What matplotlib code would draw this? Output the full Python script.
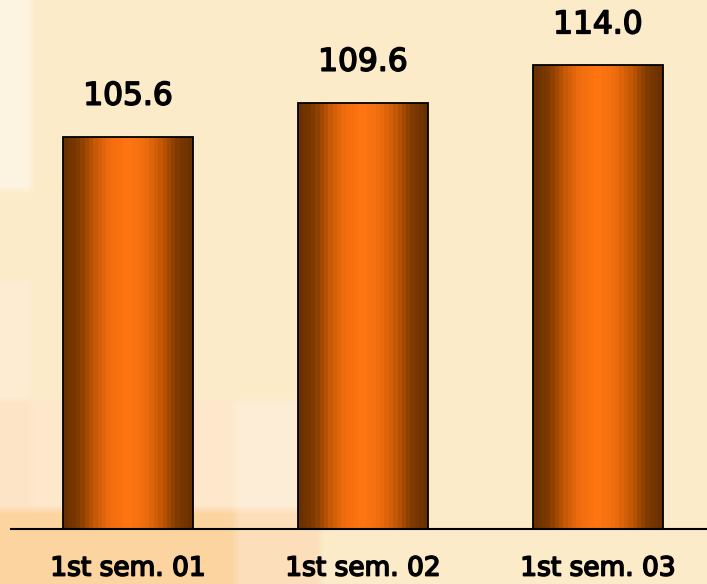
import numpy as np
import matplotlib.pyplot as plt
import matplotlib.patheffects as pe
from matplotlib.colors import LinearSegmentedColormap

# semester results
periods = ['1st sem. 01', '1st sem. 02', '1st sem. 03']
values = [105.6, 109.6, 114.0]

W, H = 707, 584

# soft cream backdrop with a few pale patches on the left
bg = np.zeros((H, W, 3))
bg[:] = (251, 235, 200)
patches = [
    (0, 32, 0, 190, (253, 243, 225)),
    (0, 32, 280, 400, (253, 236, 210)),
    (0, 235, 400, 510, (254, 232, 204)),
    (235, 320, 400, 510, (254, 237, 214)),
    (0, 32, 400, 584, (254, 228, 198)),
    (0, 235, 510, 584, (251, 212, 160)),
    (235, 320, 510, 584, (253, 222, 186)),
]
for x0, x1, y0, y1, c in patches:
    bg[y0:y1, x0:x1] = c


def box_blur(img, r):
    out = img.copy()
    for axis in (0, 1):
        pad = [(0, 0)] * 3
        pad[axis] = (r + 1, r)
        p = np.pad(out, pad, mode='edge')
        cs = np.cumsum(p, axis=axis)
        n = out.shape[axis]
        hi = np.take(cs, np.arange(2 * r + 1, 2 * r + 1 + n), axis=axis)
        lo = np.take(cs, np.arange(0, n), axis=axis)
        out = (hi - lo) / (2 * r + 1)
    return out


bg = box_blur(bg, 4) / 255.0

fig = plt.figure(figsize=(W / 100, H / 100), dpi=100)
bax = fig.add_axes([0, 0, 1, 1])
bax.imshow(bg, aspect='auto', interpolation='bilinear')
bax.axis('off')

base = 528.5
ax = fig.add_axes([11 / W, (H - base) / H, (W - 11) / W, base / H])
ax.patch.set_alpha(0)

ymin = 59.5
x = np.arange(len(values))
bars = ax.bar(x, np.array(values) - ymin, bottom=ymin, width=0.553,
              facecolor='none', edgecolor='black', linewidth=1.3, zorder=3)

# stepped metallic shading across each bar
shade = LinearSegmentedColormap.from_list('copper_bar', [
    (0.00, (0.42, 0.19, 0.00)),
    (0.11, (0.50, 0.23, 0.00)),
    (0.24, (0.78, 0.35, 0.03)),
    (0.36, (0.95, 0.43, 0.06)),
    (0.50, (1.00, 0.46, 0.07)),
    (0.64, (0.94, 0.43, 0.06)),
    (0.77, (0.76, 0.34, 0.02)),
    (0.89, (0.50, 0.23, 0.00)),
    (1.00, (0.42, 0.19, 0.00)),
], N=30)
grad = np.linspace(0, 1, 256).reshape(1, -1)
for b in bars:
    bx, by = b.get_x(), b.get_y()
    im = ax.imshow(grad, cmap=shade, aspect='auto', interpolation='nearest',
                   extent=(bx, bx + b.get_width(), by, by + b.get_height()),
                   zorder=2)
    im.set_clip_path(b)

thick = [pe.withStroke(linewidth=1.2, foreground='black')]
for b, v in zip(bars, values):
    ax.annotate(f'{v:.1f}', (b.get_x() + b.get_width() / 2, b.get_y() + b.get_height()),
                xytext=(0, 23), textcoords='offset points', ha='center', va='baseline',
                fontsize=22.5, color='black', path_effects=thick)

ax.set_xlim(-0.498, 2.464)
ax.set_ylim(ymin, ymin + base / 8.5)
ax.set_xticks(x)
ax.set_xticklabels(periods, fontsize=19, path_effects=thick)
ax.tick_params(axis='x', length=0, pad=19.5)
ax.set_yticks([])
for s in ('top', 'right', 'left'):
    ax.spines[s].set_visible(False)
ax.spines['bottom'].set_linewidth(1.5)
ax.spines['bottom'].set_zorder(4)

fig.savefig('out.png', dpi=100)
